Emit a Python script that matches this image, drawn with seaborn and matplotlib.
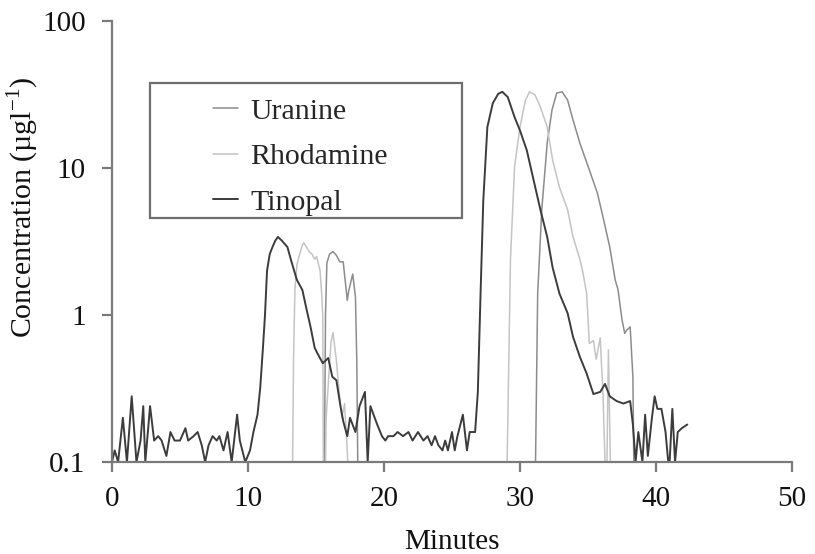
import numpy as np
import pandas as pd
import matplotlib
matplotlib.use("Agg")
import matplotlib.pyplot as plt
from matplotlib.patches import Rectangle
from matplotlib.ticker import FixedLocator, FixedFormatter, NullLocator
import seaborn as sns

# tracer breakthrough curves (minutes, ug/l)
# values under the 0.1 floor are stored as 0.05 so the line runs off the axis
tinopal_t = [0.0, 0.2, 0.45, 0.8, 1.1, 1.45, 1.8, 2.1, 2.3, 2.45, 2.8, 3.1, 3.4, 3.65,
             4.0, 4.3, 4.6, 5.0, 5.4, 5.6, 6.0, 6.3, 6.6, 6.85, 7.1, 7.4, 7.7, 7.9,
             8.2, 8.5, 8.8, 9.2, 9.4, 9.8, 10.15, 10.4, 10.7, 10.9, 11.1, 11.25, 11.4,
             11.6, 11.8, 12.0, 12.2, 12.5, 12.9, 13.2, 13.6, 14.0, 14.3, 14.6, 14.9,
             15.1, 15.5, 15.9, 16.2, 16.5, 16.8, 17.0, 17.3, 17.5, 17.9, 18.2, 18.6,
             18.8, 19.0, 19.5, 19.85, 20.1, 20.3, 20.7, 21.0, 21.4, 21.8, 22.1, 22.5,
             22.9, 23.2, 23.5, 23.75, 24.0, 24.3, 24.5, 24.7, 25.0, 25.2, 25.4, 25.8,
             26.1, 26.3, 26.7, 26.9, 27.1, 27.3, 27.6, 28.0, 28.4, 28.7, 29.1, 29.6,
             30.0, 30.5, 31.0, 31.5, 32.0, 32.4, 32.9, 33.5, 33.9, 34.4, 34.9, 35.4,
             35.9, 36.25, 36.6, 37.1, 37.6, 38.1, 38.3, 38.5, 38.7, 39.0, 39.2, 39.4,
             39.7, 39.9, 40.1, 40.4, 40.7, 40.9, 41.0, 41.2, 41.4, 41.6, 41.9, 42.3]
tinopal_c = [0.1, 0.12, 0.1, 0.2, 0.1, 0.28, 0.1, 0.14, 0.24, 0.1, 0.24, 0.14, 0.15, 0.14,
             0.11, 0.16, 0.14, 0.14, 0.17, 0.14, 0.15, 0.16, 0.13, 0.1, 0.13, 0.15, 0.14, 0.15,
             0.12, 0.16, 0.1, 0.21, 0.14, 0.1, 0.12, 0.16, 0.21, 0.32, 0.6, 1.0, 2.0,
             2.6, 2.9, 3.2, 3.4, 3.2, 2.9, 2.3, 1.73, 1.48, 1.1, 0.83, 0.6,
             0.55, 0.47, 0.51, 0.38, 0.36, 0.24, 0.19, 0.15, 0.2, 0.16, 0.24, 0.3,
             0.1, 0.24, 0.18, 0.15, 0.14, 0.15, 0.15, 0.16, 0.15, 0.16, 0.14, 0.16,
             0.14, 0.15, 0.13, 0.15, 0.13, 0.12, 0.14, 0.12, 0.16, 0.12, 0.15, 0.21,
             0.12, 0.16, 0.16, 0.3, 1.4, 6.0, 19.0, 27.6, 32.0, 33.0, 30.4, 22.2,
             18.0, 13.2, 8.3, 5.2, 3.4, 2.1, 1.4, 1.03, 0.71, 0.52, 0.4, 0.29,
             0.3, 0.34, 0.28, 0.26, 0.25, 0.26, 0.18, 0.1, 0.16, 0.1, 0.21, 0.11,
             0.2, 0.28, 0.23, 0.23, 0.16, 0.1, 0.1, 0.23, 0.1, 0.16, 0.17, 0.18]

rhodamine_t = [13.25, 13.35, 13.45, 13.6, 13.8, 14.0, 14.1, 14.3, 14.5, 14.7, 14.9, 15.05,
               15.3, 15.4, 15.5, 15.55, 15.65, 15.75, 15.95, 16.1, 16.25, 16.5, 16.7,
               16.9, 17.1, 17.3, 17.45, 29.0, 29.3, 29.6, 30.0, 30.4, 30.7, 31.1, 31.5,
               32.0, 32.4, 32.9, 33.5, 33.9, 34.4, 34.6, 34.9, 35.1, 35.4, 35.6, 35.9,
               36.1, 36.35, 36.5, 36.7]
rhodamine_c = [0.05, 0.5, 1.5, 2.2, 2.6, 3.0, 3.1, 2.9, 2.7, 2.6, 2.4, 2.5,
               2.0, 1.48, 1.0, 0.05, 0.05, 0.2, 0.4, 0.65, 0.76, 0.49, 0.3,
               0.2, 0.25, 0.12, 0.05, 0.05, 2.4, 10.2, 19.0, 29.0, 33.0, 31.5, 26.0,
               19.0, 11.3, 7.4, 5.2, 3.4, 2.4, 2.0, 1.4, 0.64, 0.67, 0.5, 0.7,
               0.29, 0.05, 0.58, 0.05]

uranine_t = [15.6, 15.7, 15.8, 16.0, 16.25, 16.5, 16.75, 17.0, 17.3, 17.4, 17.7, 17.9,
             18.0, 18.1, 31.1, 31.3, 31.6, 32.0, 32.35, 32.7, 33.1, 33.5, 33.9, 34.4,
             35.1, 35.7, 36.1, 36.6, 37.0, 37.2, 37.5, 37.7, 37.85, 38.1, 38.3, 38.4]
uranine_c = [0.05, 1.0, 2.26, 2.6, 2.7, 2.55, 2.3, 2.3, 1.26, 1.45, 1.9, 1.33,
             0.49, 0.05, 0.05, 1.4, 5.2, 14.8, 24.8, 32.4, 33.0, 29.0, 21.2, 14.8,
             9.7, 6.7, 4.65, 2.9, 1.73, 1.5, 0.93, 0.75, 0.79, 0.83, 0.38, 0.05]

dyes = ["Uranine", "Rhodamine", "Tinopal"]
y_ticks = [0.1, 1, 10, 100]
y_ticklabels = ["0.1", "1", "10", "100"]
x_ticks = [0, 10, 20, 30, 40, 50]

series = {
    "Uranine": (uranine_t, uranine_c),
    "Rhodamine": (rhodamine_t, rhodamine_c),
    "Tinopal": (tinopal_t, tinopal_c),
}
colors = {"Uranine": "#8c8c8c", "Rhodamine": "#c4c4c4", "Tinopal": "#3c3c3c"}
widths = {"Uranine": 1.1, "Rhodamine": 1.1, "Tinopal": 1.4}

sns.set_theme(style="ticks")
plt.rcParams["font.family"] = ["Liberation Serif", "DejaVu Serif"]

fig = plt.figure(figsize=(8.15, 5.54), dpi=100)
ax = fig.add_axes([0.1374, 0.166, 0.8344, 0.796])

for name in dyes:
    t, c = series[name]
    df = pd.DataFrame({"minutes": t, "conc": c})
    sns.lineplot(data=df, x="minutes", y="conc", ax=ax, color=colors[name],
                 linewidth=widths[name], estimator=None, sort=False, label=name)

ax.set_yscale("log")
ax.set_ylim(0.1, 100)
ax.set_xlim(0, 50)
ax.yaxis.set_major_locator(FixedLocator(y_ticks))
ax.yaxis.set_major_formatter(FixedFormatter(y_ticklabels))
ax.yaxis.set_minor_locator(NullLocator())
ax.set_xticks(x_ticks)

for s in ["top", "right"]:
    ax.spines[s].set_visible(False)
for s in ["left", "bottom"]:
    ax.spines[s].set_color("#7a7a7a")
    ax.spines[s].set_linewidth(1.6)
ax.tick_params(axis="both", colors="#7a7a7a", labelcolor="#111111",
               labelsize=21, width=1.6)
ax.tick_params(axis="y", length=7, pad=12)
ax.tick_params(axis="x", length=7, pad=10)

ax.set_xlabel("Minutes", fontsize=21, color="#111111")
ax.set_ylabel("Concentration (µgl$^{\\mathregular{-1}}$)", fontsize=21.5, color="#111111")
ax.xaxis.set_label_coords(0.5, -0.152)
ax.yaxis.set_label_coords(-0.104, 0.578)

# legend box drawn by hand so its size matches the original
ax.add_patch(Rectangle((0.056, 0.553), 0.459, 0.306, transform=ax.transAxes,
                       fill=False, edgecolor="#6e6e6e", linewidth=1.6, clip_on=False))
ax.legend(frameon=False, loc="upper left", bbox_to_anchor=(0.148, 0.826),
          borderpad=0, borderaxespad=0, fontsize=21.5, handlelength=0.85,
          handletextpad=0.4, labelspacing=0.62)

fig.savefig("out.png", dpi=100)
